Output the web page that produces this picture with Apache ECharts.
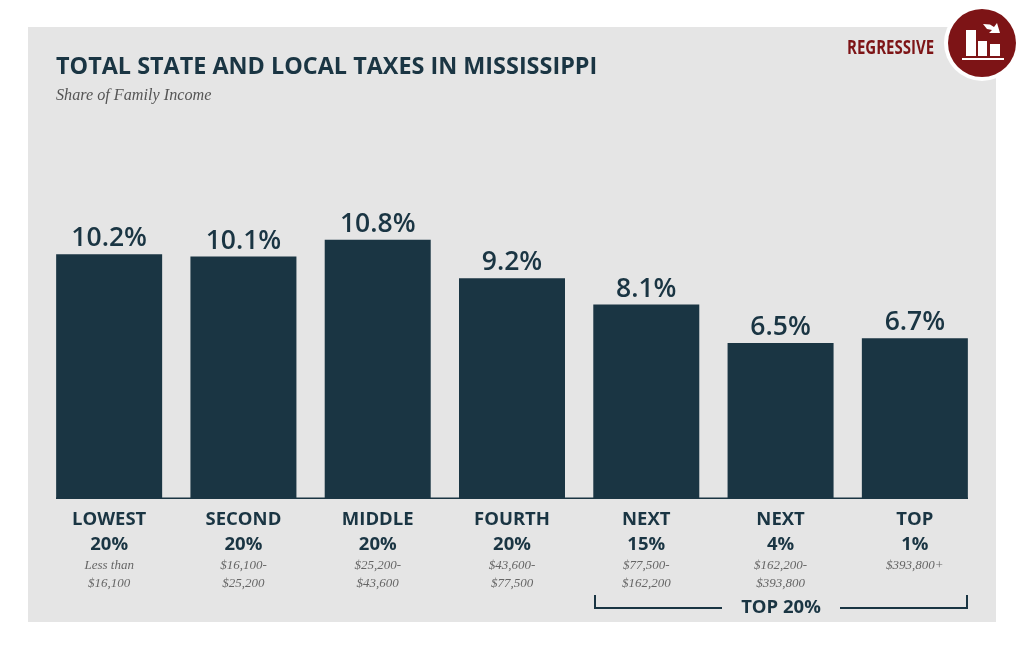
<!DOCTYPE html>
<html>
<head>
<meta charset="utf-8">
<style>
  html, body { margin: 0; padding: 0; background: #fff; }
  #chart { width: 1024px; height: 649px; }
</style>
<script src="https://cdn.jsdelivr.net/npm/echarts@6/dist/echarts.min.js"></script>
</head>
<body>
<div id="chart"></div>
<script>
const groupNames = ['LOWEST', 'SECOND', 'MIDDLE', 'FOURTH', 'NEXT', 'NEXT', 'TOP']
const groupShares = ['20%', '20%', '20%', '20%', '15%', '4%', '1%']
const incomeLine1 = ['Less than', '$16,100-', '$25,200-', '$43,600-', '$77,500-', '$162,200-', '$393,800+']
const incomeLine2 = ['$16,100', '$25,200', '$43,600', '$77,500', '$162,200', '$393,800', '']
const taxShare = [10.2, 10.1, 10.8, 9.2, 8.1, 6.5, 6.7]

const titleText = 'TOTAL STATE AND LOCAL TAXES IN MISSISSIPPI'
const subtitleText = 'Share of Family Income'
const badgeText = 'REGRESSIVE'
const bracketText = 'TOP 20%'

const navy = '#1a3543'
const red = '#7d1416'
const sans = '"Open Sans", sans-serif'
const serif = '"Liberation Serif", serif'

const myChart = echarts.init(document.getElementById('chart'))

const categories = groupNames.map((name, i) => i + '')

const option = {
    animation: false,
    backgroundColor: '#fff',
    grid: { left: 42, right: 42, top: 211, bottom: 150 },
    xAxis: {
        type: 'category',
        data: categories,
        axisTick: { show: false },
        axisLine: { show: false },
        axisLabel: {
            interval: 0,
            margin: 8,
            align: 'center',
            verticalAlign: 'top',
            formatter: function (value, idx) {
                return [
                    '{name|' + groupNames[idx] + '}',
                    '{share|' + groupShares[idx] + '}',
                    '{income|' + incomeLine1[idx] + '}',
                    incomeLine2[idx] ? '{income|' + incomeLine2[idx] + '}' : ''
                ].join('\n')
            },
            rich: {
                name: { fontFamily: sans, fontWeight: 700, fontSize: 18.5, color: navy, lineHeight: 25 },
                share: { fontFamily: sans, fontWeight: 700, fontSize: 18.5, color: navy, lineHeight: 25 },
                income: { fontFamily: serif, fontStyle: 'italic', fontSize: 13, color: '#666', lineHeight: 18 }
            }
        }
    },
    yAxis: { type: 'value', min: 0, max: 12, show: false },
    series: [{
        type: 'bar',
        data: taxShare,
        barWidth: 106,
        itemStyle: { color: navy },
        label: {
            show: true,
            position: 'top',
            distance: 2,
            fontFamily: sans,
            fontWeight: 600,
            fontSize: 26.5,
            color: navy,
            formatter: function (p) { return p.value.toFixed(1) + '%' }
        }
    }],
    graphic: [
        // panel behind the chart
        { type: 'rect', z: -10, shape: { x: 28, y: 27, width: 968, height: 595 }, style: { fill: '#e5e5e5' } },
        // baseline joining the bars
        { type: 'rect', shape: { x: 56, y: 497.5, width: 912, height: 1.5 }, style: { fill: navy } },

        { type: 'text', left: 56, top: 56, style: { text: titleText, font: '700 23.4px ' + sans, fill: navy } },
        { type: 'text', left: 56, top: 88, style: { text: subtitleText, font: 'italic 16.2px ' + serif, fill: '#555' } },
        { type: 'text', x: 847, y: 48, scaleX: 0.75, style: { text: badgeText, font: '700 20px ' + sans, fill: red, verticalAlign: 'middle' } },

        // regressive badge
        { type: 'circle', shape: { cx: 982, cy: 43, r: 38 }, style: { fill: '#fff' } },
        { type: 'circle', shape: { cx: 982, cy: 43, r: 34 }, style: { fill: red } },
        { type: 'rect', shape: { x: 966, y: 30, width: 10, height: 26 }, style: { fill: '#fff' } },
        { type: 'rect', shape: { x: 978, y: 41, width: 9, height: 15 }, style: { fill: '#fff' } },
        { type: 'rect', shape: { x: 990, y: 44, width: 10, height: 12 }, style: { fill: '#fff' } },
        { type: 'rect', shape: { x: 962, y: 58, width: 42, height: 2 }, style: { fill: '#fff' } },
        { type: 'polygon', shape: { points: [[983, 24], [990, 24.5], [994, 27], [997, 23], [1000, 33], [989, 33], [992, 30], [987, 29]] }, style: { fill: '#fff' } },

        // top 20% bracket
        { type: 'polyline', shape: { points: [[595, 595], [595, 608], [722, 608]] }, style: { stroke: navy, lineWidth: 2, fill: null } },
        { type: 'polyline', shape: { points: [[840, 608], [967, 608], [967, 595]] }, style: { stroke: navy, lineWidth: 2, fill: null } },
        { type: 'text', x: 781, y: 608, style: { text: bracketText, font: '700 18.5px ' + sans, fill: navy, align: 'center', verticalAlign: 'middle' } }
    ]
}

myChart.setOption(option)
</script>
</body>
</html>
